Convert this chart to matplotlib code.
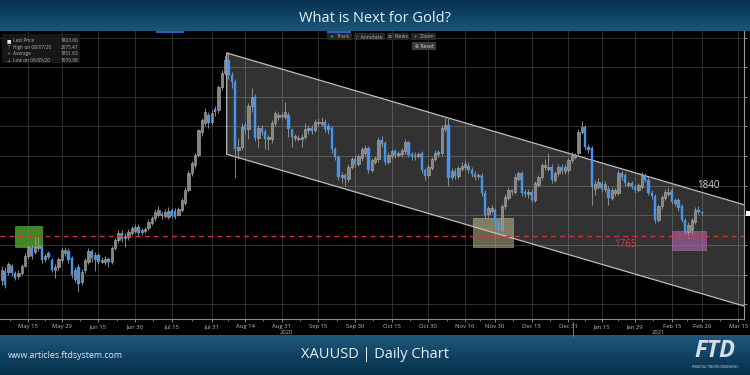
import matplotlib.pyplot as plt
import numpy as np
import pandas as pd
from matplotlib.colors import LinearSegmentedColormap
from matplotlib.patches import Polygon, Rectangle, FancyBboxPatch

# ---------------------------------------------------------------
# XAUUSD daily candles (first candle 5 May 2020)
# ---------------------------------------------------------------
first_day = "2020-05-05"
holidays = ["2020-11-26", "2020-12-25", "2021-01-01"]

opens = [
    1690, 1706, 1705, 1715, 1702, 1697, 1702, 1715, 1731, 1745,
    1738, 1744, 1747, 1727, 1736, 1725, 1708, 1712, 1724, 1736,
    1739, 1728, 1693, 1713, 1688, 1708, 1722, 1739, 1727, 1733,
    1722, 1722, 1726, 1722, 1745, 1758, 1770, 1761, 1764, 1770,
    1773, 1780, 1771, 1773, 1779, 1787, 1795, 1800, 1803, 1798,
    1797, 1809, 1808, 1801, 1809, 1821, 1843, 1871, 1885, 1902,
    1940, 1955, 1969, 1958, 1980, 1977, 2016, 2040, 2062, 2037,
    2025, 1910, 1916, 1952, 1945, 1985, 2000, 1930, 1948, 1941,
    1928, 1928, 1955, 1966, 1967, 1966, 1970, 1944, 1930, 1929,
    1928, 1932, 1944, 1948, 1944, 1955, 1954, 1958, 1950, 1947,
    1912, 1899, 1864, 1868, 1861, 1882, 1895, 1887, 1897, 1905,
    1913, 1877, 1890, 1895, 1927, 1922, 1890, 1900, 1908, 1902,
    1903, 1908, 1923, 1903, 1902, 1900, 1905, 1877, 1868, 1880,
    1895, 1907, 1905, 1945, 1952, 1865, 1875, 1866, 1878, 1881,
    1884, 1877, 1870, 1866, 1867, 1838, 1803, 1808, 1809, 1789,
    1776, 1815, 1829, 1842, 1840, 1862, 1871, 1840, 1836, 1840,
    1826, 1851, 1865, 1881, 1878, 1882, 1860, 1871, 1882, 1874,
    1876, 1893, 1899, 1905, 1941, 1949, 1916, 1913, 1845, 1848,
    1853, 1845, 1845, 1829, 1837, 1838, 1871, 1868, 1851, 1854,
    1848, 1843, 1848, 1868, 1860, 1838, 1832, 1792, 1815, 1829,
    1836, 1843, 1820, 1826, 1815, 1792, 1772, 1775, 1789, 1809,
    1806,
]
highs = [
    1715, 1712, 1722, 1718, 1706, 1708, 1718, 1736, 1750, 1750,
    1763, 1765, 1752, 1735, 1740, 1728, 1718, 1730, 1745, 1746,
    1744, 1731, 1712, 1717, 1709, 1728, 1744, 1743, 1738, 1737,
    1729, 1731, 1730, 1748, 1762, 1775, 1776, 1770, 1777, 1782,
    1785, 1785, 1778, 1780, 1793, 1798, 1810, 1815, 1808, 1810,
    1814, 1812, 1813, 1814, 1830, 1847, 1876, 1892, 1905, 1946,
    1965, 1981, 1975, 1978, 1984, 2020, 2045, 2068, 2075, 2042,
    2030, 1930, 1955, 1958, 1990, 2015, 2005, 1952, 1952, 1946,
    1936, 1960, 1976, 1975, 1974, 1992, 1975, 1948, 1938, 1936,
    1937, 1955, 1953, 1952, 1962, 1964, 1966, 1962, 1955, 1950,
    1916, 1902, 1873, 1872, 1886, 1899, 1901, 1904, 1916, 1918,
    1917, 1897, 1900, 1932, 1933, 1926, 1906, 1912, 1912, 1909,
    1914, 1928, 1926, 1907, 1906, 1907, 1909, 1880, 1886, 1898,
    1910, 1911, 1952, 1964, 1965, 1880, 1880, 1884, 1890, 1893,
    1890, 1882, 1875, 1872, 1871, 1842, 1815, 1818, 1813, 1792,
    1819, 1836, 1847, 1845, 1870, 1875, 1875, 1844, 1844, 1845,
    1858, 1868, 1888, 1895, 1905, 1886, 1875, 1886, 1886, 1887,
    1897, 1906, 1905, 1945, 1959, 1953, 1920, 1917, 1860, 1863,
    1858, 1858, 1850, 1847, 1846, 1876, 1875, 1872, 1858, 1858,
    1852, 1855, 1873, 1872, 1864, 1842, 1836, 1819, 1835, 1845,
    1848, 1848, 1830, 1830, 1819, 1795, 1788, 1796, 1814, 1815,
    1808,
]
lows = [
    1683, 1678, 1700, 1698, 1690, 1693, 1699, 1712, 1727, 1726,
    1735, 1740, 1720, 1722, 1726, 1704, 1695, 1708, 1720, 1732,
    1720, 1695, 1688, 1671, 1682, 1703, 1718, 1722, 1706, 1718,
    1719, 1716, 1712, 1718, 1741, 1754, 1755, 1746, 1758, 1766,
    1770, 1765, 1767, 1770, 1775, 1783, 1791, 1797, 1794, 1795,
    1793, 1795, 1793, 1798, 1805, 1818, 1840, 1866, 1880, 1898,
    1934, 1950, 1948, 1952, 1968, 1972, 2012, 2036, 2030, 2015,
    1863, 1895, 1910, 1938, 1928, 1975, 1925, 1915, 1935, 1912,
    1910, 1922, 1950, 1960, 1963, 1962, 1932, 1915, 1925, 1925,
    1915, 1928, 1938, 1938, 1940, 1950, 1950, 1940, 1938, 1905,
    1893, 1860, 1855, 1850, 1856, 1878, 1882, 1883, 1892, 1900,
    1872, 1873, 1886, 1890, 1915, 1885, 1886, 1895, 1897, 1898,
    1899, 1904, 1898, 1894, 1893, 1896, 1872, 1860, 1863, 1876,
    1891, 1898, 1900, 1941, 1850, 1860, 1862, 1862, 1874, 1877,
    1872, 1864, 1860, 1862, 1832, 1796, 1797, 1804, 1785, 1764,
    1772, 1811, 1825, 1834, 1836, 1858, 1833, 1831, 1830, 1822,
    1822, 1847, 1860, 1877, 1874, 1855, 1856, 1867, 1870, 1870,
    1872, 1889, 1895, 1900, 1937, 1910, 1905, 1818, 1835, 1844,
    1840, 1840, 1818, 1825, 1832, 1834, 1860, 1850, 1847, 1844,
    1838, 1839, 1844, 1856, 1834, 1828, 1787, 1788, 1811, 1825,
    1832, 1819, 1816, 1808, 1788, 1768, 1762, 1768, 1785, 1802,
    1800,
]
closes = [
    1708, 1683, 1718, 1702, 1695, 1702, 1715, 1732, 1746, 1731,
    1746, 1748, 1724, 1731, 1730, 1708, 1713, 1726, 1741, 1741,
    1724, 1699, 1707, 1684, 1705, 1724, 1739, 1728, 1733, 1722,
    1725, 1727, 1722, 1744, 1758, 1770, 1760, 1765, 1772, 1778,
    1780, 1770, 1775, 1777, 1789, 1795, 1806, 1809, 1798, 1805,
    1808, 1798, 1797, 1810, 1826, 1842, 1871, 1888, 1902, 1944,
    1961, 1974, 1955, 1972, 1974, 2016, 2040, 2062, 2037, 2025,
    1912, 1915, 1949, 1944, 1985, 2000, 1930, 1948, 1940, 1928,
    1932, 1955, 1972, 1970, 1970, 1975, 1945, 1932, 1933, 1931,
    1932, 1945, 1948, 1943, 1957, 1958, 1958, 1945, 1944, 1912,
    1899, 1865, 1868, 1861, 1882, 1895, 1887, 1900, 1912, 1913,
    1877, 1893, 1896, 1927, 1920, 1890, 1902, 1908, 1902, 1905,
    1910, 1923, 1902, 1898, 1898, 1903, 1877, 1866, 1882, 1895,
    1905, 1902, 1948, 1952, 1863, 1875, 1866, 1880, 1884, 1887,
    1877, 1869, 1865, 1868, 1838, 1800, 1812, 1813, 1789, 1776,
    1815, 1831, 1843, 1839, 1865, 1871, 1838, 1836, 1840, 1826,
    1854, 1865, 1885, 1885, 1882, 1860, 1871, 1882, 1874, 1882,
    1893, 1902, 1901, 1941, 1949, 1916, 1911, 1848, 1853, 1856,
    1845, 1853, 1829, 1843, 1842, 1871, 1865, 1854, 1854, 1848,
    1843, 1851, 1868, 1860, 1838, 1832, 1792, 1815, 1831, 1840,
    1840, 1823, 1826, 1812, 1792, 1772, 1784, 1792, 1809, 1806,
    1804,
]

tick_dates = ["2020-05-15", "2020-05-29", "2020-06-15", "2020-06-30", "2020-07-15",
              "2020-07-31", "2020-08-14", "2020-08-31", "2020-09-15", "2020-09-30",
              "2020-10-15", "2020-10-30", "2020-11-16", "2020-11-30", "2020-12-15",
              "2020-12-31", "2021-01-15", "2021-01-29", "2021-02-15", "2021-02-26",
              "2021-03-15"]
tick_labels = ["May 15", "May 29", "Jun 15", "Jun 30", "Jul 15", "Jul 31", "Aug 14",
               "Aug 31", "Sep 15", "Sep 30", "Oct 15", "Oct 30", "Nov 16", "Nov 30",
               "Dec 15", "Dec 31", "Jan 15", "Jan 29", "Feb 15", "Feb 26", "Mar 15"]

# trend channel (candle index, price)
channel_x = [67.5, 223.2]
channel_upper = [2074, 1817]
channel_lower = [1903, 1646]

# highlighted zones (candle index span, price span)
zone_left = [4.0, 141.3, 201.0]
zone_right = [12.2, 153.3, 211.2]
zone_low = [1747, 1746, 1741]
zone_high = [1782, 1795, 1774]

support_level = 1765
resistance_level = 1840

legend_names = ["Last Price", "High on 08/07/20", "Average", "Low on 06/05/20"]
legend_values = ["1803.66", "2075.47", "1851.63", "1670.98"]

# ---------------------------------------------------------------
UP = "#858585"
UP_EDGE = "#b0b0b0"
DOWN = "#4495f0"
WICK = "#9c9c9c"
GRID = "#383838"

plt.rcParams["font.family"] = ["Open Sans", "DejaVu Sans"]

W, H = 750, 375
fig = plt.figure(figsize=(7.5, 3.75), dpi=100, facecolor="black")

# header / footer bands
bg = fig.add_axes([0, 0, 1, 1], zorder=0)
bg.set_facecolor("black")
grad = np.linspace(0, 1, 64).reshape(-1, 1)
top_cmap = LinearSegmentedColormap.from_list("top", ["#06304e", "#0f4466", "#1b5679"])
bot_cmap = LinearSegmentedColormap.from_list("bot", ["#20597b", "#0f4263", "#07304d"])
bg.imshow(grad, extent=(0, W, 31, 0), cmap=top_cmap, aspect="auto")
bg.imshow(grad, extent=(0, W, H, 335), cmap=bot_cmap, aspect="auto")
bg.set_xlim(0, W)
bg.set_ylim(H, 0)
bg.axis("off")

# main price axes (pixels 0..744 x 31..319)
ax = fig.add_axes([0, (H - 319) / H, 744 / W, 288 / H], zorder=1)
ax.set_facecolor("black")

x = np.arange(len(closes))
o = np.array(opens, dtype=float)
c = np.array(closes, dtype=float)
hi = np.array(highs, dtype=float)
lo = np.array(lows, dtype=float)
up = c >= o
body_lo = np.minimum(o, c)
body_h = np.maximum(np.abs(c - o), 1.5)

ax.vlines(x, lo, hi, color=WICK, linewidth=0.6, zorder=3)
ax.bar(x[up], body_h[up], bottom=body_lo[up], width=0.7, color=UP,
       edgecolor=UP_EDGE, linewidth=0.4, zorder=4)
ax.bar(x[~up], body_h[~up], bottom=body_lo[~up], width=0.7, color=DOWN,
       edgecolor=DOWN, linewidth=0.3, zorder=4)

# channel
chan = Polygon([(channel_x[0], channel_upper[0]), (channel_x[1], channel_upper[1]),
                (channel_x[1], channel_lower[1]), (channel_x[0], channel_lower[0])],
               closed=True, facecolor=(1, 1, 1, 0.2), edgecolor="#bdbdbd",
               linewidth=0.9, zorder=2)
ax.add_patch(chan)

zone_colors = [("#4f9d2c", 0.85), ("#cfc8a0", 0.5), ("#b467b4", 0.6)]
for x0, x1, p0, p1, (fc, a) in zip(zone_left, zone_right, zone_low, zone_high, zone_colors):
    ax.add_patch(Rectangle((x0, p0), x1 - x0, p1 - p0, facecolor=fc, alpha=a,
                           edgecolor=fc, linewidth=0.6, zorder=2.5))

ax.axhline(support_level, color="#dd2e2e", linewidth=1.0, linestyle=(0, (3.5, 3)), zorder=6)
ax.text(187, support_level - 14, f"{support_level}", color="#e0393b", fontsize=7,
        ha="center", va="center", zorder=7)
ax.text(212, resistance_level + 11, f"{resistance_level}", color="#d9d9d9", fontsize=7,
        ha="center", va="center", zorder=7)

# axes ranges / ticks
ax.set_xlim(-0.51, 222.7)
ax.set_ylim(1625, 2111)

tick_pos = np.busday_count(first_day, tick_dates, holidays=holidays)
ax.set_xticks(tick_pos)
ax.set_xticklabels(tick_labels)
minor_pos = (tick_pos[:-1] + tick_pos[1:]) / 2
ax.set_xticks(np.concatenate([[tick_pos[0] - 5.5], minor_pos]), minor=True)
ax.set_yticks(np.arange(1650, 2101, 50))
ax.tick_params(axis="x", which="major", colors="#bcbcbc", labelsize=4.2, length=2,
               width=0.5, pad=1.5)
ax.tick_params(axis="x", which="minor", colors="#9a9a9a", length=1.3, width=0.5)
ax.tick_params(axis="y", left=False, right=True, labelleft=False, labelright=False,
               colors="#cfcfcf", length=2.5, width=0.5)
ax.grid(True, which="major", color=GRID, linewidth=0.6)
ax.set_axisbelow(True)
for side in ["top", "left"]:
    ax.spines[side].set_visible(False)
ax.spines["bottom"].set_color("#8a8a8a")
ax.spines["bottom"].set_linewidth(0.8)
ax.spines["right"].set_color("#9a9a9a")
ax.spines["right"].set_linewidth(0.8)

# year labels and separator
year_break = np.busday_count(first_day, "2021-01-01", holidays=holidays) + 0.5
xt = ax.get_xaxis_transform()
ax.text((ax.get_xlim()[0] + year_break) / 2, -0.046, "2020", transform=xt,
        fontsize=4.2, color="#bcbcbc", ha="center", va="center")
ax.text((ax.get_xlim()[1] + year_break) / 2, -0.046, "2021", transform=xt,
        fontsize=4.2, color="#bcbcbc", ha="center", va="center")
ax.plot([year_break, year_break], [-0.012, -0.058], transform=xt, color="#8a8a8a",
        linewidth=0.6, clip_on=False)

# overlay (pixel coords) for terminal widgets
ov = fig.add_axes([0, 0, 1, 1], zorder=5)
ov.set_xlim(0, W)
ov.set_ylim(H, 0)
ov.patch.set_alpha(0)
ov.axis("off")

ov.add_patch(Rectangle((2, 34), 78, 29, facecolor="#1a1a1a", alpha=0.92, edgecolor="none"))
icons = ["\u25a0", "\u22a4", "+", "\u22a5"]
for k, (name, val, ic) in enumerate(zip(legend_names, legend_values, icons)):
    yy = 40.7 + k * 6.5
    ov.text(8.5, yy, ic, color="#e8e8e8" if k == 0 else "#9a9a9a", fontsize=3.4,
            ha="center", va="center", family="DejaVu Sans")
    ov.text(13, yy, name, color="#b8b8b8", fontsize=3.4, ha="left", va="center")
    ov.text(78, yy, val, color="#b8b8b8", fontsize=3.4, ha="right", va="center")

buttons = [("+  Track", 327, 352), ("\u2215  Annotate", 354, 385),
           ("\u2261  News", 387, 409), ("\u2218  Zoom", 411, 436)]
for label, bx0, bx1 in buttons:
    ov.add_patch(FancyBboxPatch((bx0, 33), bx1 - bx0, 7, boxstyle="round,pad=0,rounding_size=1",
                                facecolor="#262626", edgecolor="none"))
    ov.text((bx0 + bx1) / 2, 36.6, label, color="#a8a8a8", fontsize=3.4,
            ha="center", va="center", family=["DejaVu Sans"])
ov.add_patch(FancyBboxPatch((412, 42), 24, 8, boxstyle="round,pad=0,rounding_size=1",
                            facecolor="#3a3a3a", edgecolor="none"))
ov.text(424, 46, "\u2297 Reset", color="#c8c8c8", fontsize=3.4, ha="center", va="center",
        family=["DejaVu Sans"])
ov.plot([157, 183], [31.8, 31.8], color="#2f62c4", linewidth=1.4)
ov.plot([328, 350], [31.8, 31.8], color="#2f62c4", linewidth=1.4)
ov.add_patch(Rectangle((745.5, 210.5), 5, 5.5, facecolor="white", edgecolor="none"))

# header / footer text
fig.text(0.5, 1 - 19 / H, "What is Next for Gold?", ha="center", va="center",
         fontsize=10.5, color="#e9eff4")
fig.text(0.5, 1 - 354 / H, "XAUUSD | Daily Chart", ha="center", va="center",
         fontsize=10.5, color="#e9eff4")
fig.text(8 / W, 1 - 356 / H, "www.articles.ftdsystem.com", ha="left", va="center",
         fontsize=6.3, color="#e2eaf0")
fig.text(715 / W, 1 - 351 / H, "FTD", ha="center", va="center", fontsize=17,
         fontweight="bold", fontstyle="italic", color="#d5dce3")
fig.text(715 / W, 1 - 367 / H, "FINANCIAL TRADING DIMENSIONS", ha="center", va="center",
         fontsize=2.2, color="#c8d2da")

fig.savefig("out.png", dpi=100, facecolor=fig.get_facecolor())
